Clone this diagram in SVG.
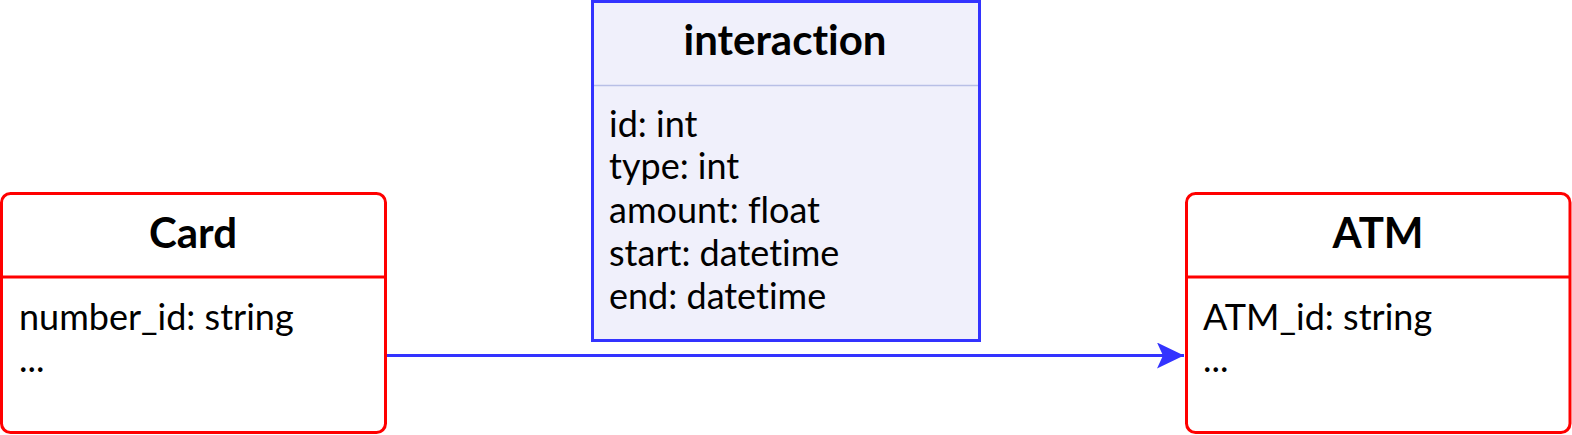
<svg xmlns="http://www.w3.org/2000/svg" width="1572" height="435" viewBox="0 0 1572 435">
<style>
text{font-variant-ligatures:none}
.box{fill:#ffffff;stroke:#ff0000;stroke-width:3}
.div{stroke:#ff0000;stroke-width:3}
.title{font-family:Lato,"Liberation Sans",sans-serif;font-weight:bold;font-size:42px;fill:#000;text-anchor:middle}
.body{font-family:Lato,"Liberation Sans",sans-serif;font-size:36px;fill:#000}
.conn{stroke:#3333ff;stroke-width:3;fill:none}
</style>
<defs>
<marker id="arr" markerUnits="userSpaceOnUse" markerWidth="30" markerHeight="30" refX="27" refY="13" orient="auto">
<path d="M0,0 L27,13 L0,26 L6,13 Z" fill="#3333ff"/>
</marker>
</defs>
<g id="connectors">
<path class="conn" d="M386,355.5 L1184,355.5" marker-end="url(#arr)"/>
</g>
<g id="card">
<rect class="box" x="1.5" y="193.5" width="384" height="239" rx="9"/>
<line class="div" x1="1.5" y1="277" x2="385.5" y2="277"/>
<text class="title" x="193" y="248">Card</text>
<text class="body" x="19" y="330">number_id: string</text>
<text class="body" x="19" y="372">...</text>
</g>
<g id="interaction">
<rect x="592.5" y="1.5" width="387" height="339" fill="#f0f0fb" stroke="#3333ff" stroke-width="3"/>
<line x1="594" y1="85.5" x2="978" y2="85.5" stroke="#b8bfe6" stroke-width="1.5"/>
<text class="title" x="785" y="55">interaction</text>
<text class="body" x="609" y="137">id: int</text>
<text class="body" x="609" y="179">type: int</text>
<text class="body" x="609" y="223">amount: float</text>
<text class="body" x="609" y="266">start: datetime</text>
<text class="body" x="609" y="309">end: datetime</text>
</g>
<g id="atm">
<rect class="box" x="1186.5" y="193.5" width="383.5" height="239" rx="9"/>
<line class="div" x1="1186.5" y1="277" x2="1570" y2="277"/>
<text class="title" x="1378" y="248">ATM</text>
<text class="body" x="1203" y="330">ATM_id: string</text>
<text class="body" x="1203" y="372">...</text>
</g>
</svg>
